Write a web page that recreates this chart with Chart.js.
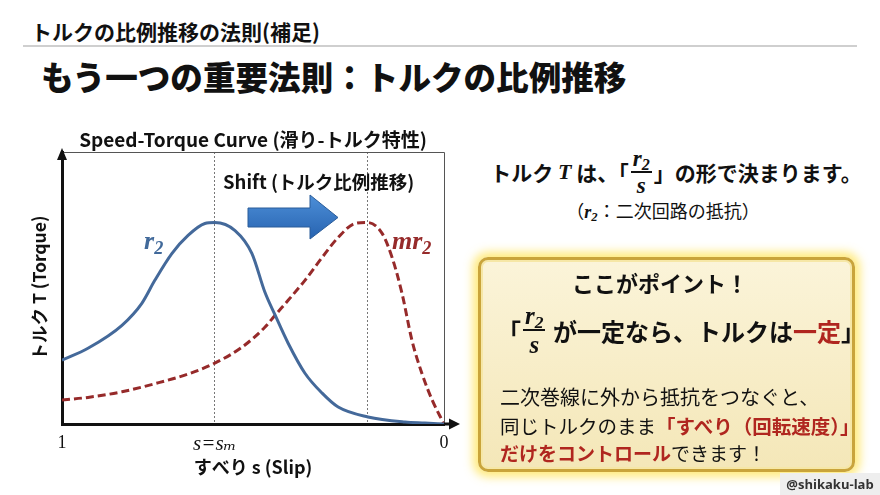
<!DOCTYPE html>
<html><head><meta charset="utf-8">
<script src="https://cdn.jsdelivr.net/npm/chart.js@4.4.1/dist/chart.umd.min.js"></script>
<style>
html,body{margin:0;padding:0;background:#fff;}
body{width:880px;height:495px;position:relative;overflow:hidden;font-family:'Noto Sans CJK JP','Noto Sans',sans-serif;color:#111;}
.abs{position:absolute;white-space:nowrap;}
.m{font-family:'Liberation Serif','DejaVu Serif',serif;font-style:italic;font-weight:700;}
#sub{left:31px;top:21px;font-size:21px;font-weight:700;line-height:1;}
#rule{left:23px;top:45px;width:834px;height:2px;background:#cfcfcf;}
#main{left:41px;top:60px;font-size:32.6px;font-weight:900;line-height:1;}
#chartBox{left:0;top:110px;width:470px;height:385px;}
#lblR2{left:144px;top:228px;font-size:26px;line-height:1;color:#41699a;}
#lblMR2{left:392px;top:228px;font-size:26px;line-height:1;color:#962a2a;}
.m sub{font-size:0.7em;vertical-align:-0.25em;line-height:0;}
#shift{left:223px;top:170px;font-size:18.5px;font-weight:700;line-height:1.2;color:#111;}
#arrow{left:246px;top:193px;}
.frac{display:inline-flex;flex-direction:column;align-items:center;margin:0 2px;}
.frac .n{border-bottom:2px solid #111;padding:0 2px 1px;line-height:1;}
.frac .d{line-height:1;padding-top:1px;}
#l1{left:488px;top:140px;width:376px;height:64px;display:flex;align-items:center;justify-content:center;font-size:21px;font-weight:700;}
#l1 .frac{font-size:23px;}
#l2{left:550px;top:200px;width:226px;text-align:center;font-size:18px;line-height:1.2;}
#box{left:478px;top:257px;width:377px;height:215px;box-sizing:border-box;border:3px solid #c9a43b;border-radius:10px;
 background:linear-gradient(#fbf4d9,#f4e7b8);box-shadow:0 0 10px 5px rgba(255,225,70,0.7), inset 0 0 0 2px #f6e7a6;}
#pt{left:560px;top:271px;width:200px;text-align:center;font-size:22px;font-weight:700;line-height:1;}
#l3{left:497px;top:300px;height:60px;display:flex;align-items:center;font-size:24px;font-weight:700;}
#l3 .frac{font-size:25px;}
.red{color:#b0261f;}
.b{font-weight:700;}
.body{left:500px;line-height:1;}
#b1{top:387px;font-size:20px;}#b2{top:416px;font-size:19.5px;}#b3{top:443px;font-size:19px;}
#wm{left:780px;top:473px;width:100px;height:22px;background:#eeeeee;font-size:13px;font-weight:700;line-height:22px;text-align:center;color:#333;font-family:'Open Sans','DejaVu Sans',sans-serif;}
</style></head>
<body>
<div class="abs" id="sub">トルクの比例推移の法則(補足)</div>
<div class="abs" id="rule"></div>
<div class="abs" id="main">もう一つの重要法則：トルクの比例推移</div>
<div class="abs" id="chartBox"><canvas id="c" width="470" height="385"></canvas></div>
<div class="abs" id="shift">Shift (トルク比例推移)</div>
<svg class="abs" id="arrow" width="96" height="48" viewBox="0 0 96 48">
 <defs><linearGradient id="g" x1="0" y1="0" x2="0" y2="1"><stop offset="0" stop-color="#4d8fd8"/><stop offset="1" stop-color="#2763b0"/></linearGradient></defs>
 <polygon points="2,15 64,15 64,2 92,24.5 64,46 64,34 2,34" fill="url(#g)" stroke="#2a5c99" stroke-width="1"/>
</svg>
<div class="abs m" id="lblR2">r<sub>2</sub></div>
<div class="abs m" id="lblMR2">mr<sub>2</sub></div>

<div class="abs" id="l1">トルク&nbsp;<span class="m" style="font-size:22px">T</span>&nbsp;は、「<span class="frac m"><span class="n">r<sub>2</sub></span><span class="d">s</span></span>」の形で決まります。</div>
<div class="abs" id="l2">（<span class="m">r<sub>2</sub></span>：二次回路の抵抗）</div>

<div class="abs" id="box"></div>
<div class="abs" id="pt">ここがポイント！</div>
<div class="abs" id="l3">「<span class="frac m"><span class="n">r<sub>2</sub></span><span class="d">s</span></span>&nbsp;が一定なら、トルクは<span class="red">一定</span>」</div>
<div class="abs body" id="b1">二次巻線に外から抵抗をつなぐと、</div>
<div class="abs body" id="b2">同じトルクのまま<span class="red b">「すべり（回転速度）」</span></div>
<div class="abs body" id="b3"><span class="red b">だけをコントロール</span>できます！</div>
<div class="abs" id="wm">@shikaku-lab</div>

<script>
// ---- data ----
const slipR2   = [1.000,0.932,0.843,0.791,0.757,0.712,0.670,0.626,0.600,0.547,0.503,0.469,0.442,0.408,0.364,0.319,0.277,0.199,0.102,0.050,0.000];
const torqueR2 = [0.317,0.376,0.490,0.599,0.713,0.847,0.936,0.995,1.000,0.960,0.847,0.655,0.540,0.401,0.252,0.153,0.084,0.035,0.010,0.005,0.000];
const slipMR2   = [1.000,0.932,0.843,0.757,0.670,0.600,0.529,0.469,0.442,0.408,0.364,0.319,0.277,0.233,0.200,0.162,0.136,0.110,0.084,0.058,0.031,0.000];
const torqueMR2 = [0.119,0.132,0.160,0.200,0.248,0.302,0.381,0.480,0.540,0.614,0.713,0.827,0.926,0.995,1.000,0.946,0.827,0.649,0.416,0.252,0.119,0.000];
const xTickValues = [1, 0.6, 0.2, 0];
const xTickLabels = ['1', 's=sₘ', '', '0'];
const dottedAt = [0.6, 0.2];
const seriesNames = ['r2', 'mr2'];
const chartTitle = 'Speed-Torque Curve (滑り-トルク特性)';
const xTitle = 'すべり s (Slip)';
const yTitle = 'トルク T (Torque)';

Chart.defaults.font.family = "'Noto Sans CJK JP','Noto Sans',sans-serif";
Chart.defaults.color = '#111';

const pts = (xs, ys) => xs.map((x, i) => ({x, y: ys[i]}));

const framePlugin = {
  id: 'frame',
  beforeDatasetsDraw(chart) {
    const {ctx, chartArea: {left, right, top, bottom}} = chart;
    ctx.save();
    ctx.strokeStyle = '#555';
    ctx.lineWidth = 1;
    ctx.beginPath();
    ctx.moveTo(left, Math.round(top) + 0.5);
    ctx.lineTo(Math.round(right) + 0.5, Math.round(top) + 0.5);
    ctx.lineTo(Math.round(right) + 0.5, bottom);
    ctx.stroke();
    ctx.restore();
  },
  afterDraw(chart) {
    const {ctx, chartArea: {left, right, top, bottom}} = chart;
    ctx.save();
    ctx.fillStyle = '#111';
    ctx.beginPath();
    ctx.moveTo(left, top - 4);
    ctx.lineTo(left - 5, top + 8);
    ctx.lineTo(left + 5, top + 8);
    ctx.closePath();
    ctx.fill();
    ctx.fillRect(right, bottom - 1.5, 8, 3);
    ctx.beginPath();
    ctx.moveTo(right + 16, bottom);
    ctx.lineTo(right + 5, bottom - 5.5);
    ctx.lineTo(right + 5, bottom + 5.5);
    ctx.closePath();
    ctx.fill();
    ctx.restore();
  }
};

new Chart(document.getElementById('c'), {
  type: 'line',
  data: {
    datasets: [
      {label: seriesNames[0], data: pts(slipR2, torqueR2), borderColor: '#44699a', borderWidth: 3,
       pointRadius: 0, cubicInterpolationMode: 'monotone', fill: false},
      {label: seriesNames[1], data: pts(slipMR2, torqueMR2), borderColor: '#962a2a', borderWidth: 3,
       borderDash: [8, 4], pointRadius: 0, cubicInterpolationMode: 'monotone', fill: false}
    ]
  },
  options: {
    responsive: false,
    animation: false,
    layout: {padding: {left: 0, right: 26, top: 0, bottom: 0}},
    plugins: {
      legend: {display: false},
      tooltip: {enabled: false},
      title: {display: true, text: chartTitle, fullSize: false, color: '#111',
              font: {size: 19, weight: 'bold'}, padding: {top: 18.6, bottom: 0.6}}
    },
    scales: {
      x: {
        type: 'linear', min: 0, max: 1, reverse: true,
        afterBuildTicks: s => { s.ticks = xTickValues.map(v => ({value: v})); },
        afterFit: s => { s.height = 71; },
        ticks: {autoSkip: false, maxRotation: 0, padding: 8, color: '#111',
                callback: (v, i) => xTickLabels[i],
                font: c => (c.tick && c.tick.value === 0.6)
                  ? {family: "'Liberation Serif','DejaVu Serif',serif", size: 21, style: 'italic'}
                  : {family: "'Liberation Serif','DejaVu Serif',serif", size: 18, style: 'normal'}},
        grid: {drawTicks: false, lineWidth: 1,
               color: c => (c.tick && dottedAt.includes(c.tick.value)) ? '#777' : 'rgba(0,0,0,0)'},
        border: {display: true, width: 3, color: '#111', dash: [2, 2]},
        title: {display: true, text: xTitle, font: {size: 18, weight: 'bold'}, color: '#111', padding: {top: 0, bottom: 17.2}}
      },
      y: {
        min: 0, max: 1.35,
        afterFit: s => { s.width = 62; },
        ticks: {display: false},
        grid: {display: false, drawTicks: false},
        border: {display: true, width: 3, color: '#111'},
        title: {display: true, text: yTitle, font: {size: 17.5, weight: 'bold'}, color: '#111', padding: {top: 29, bottom: 0}}
      }
    }
  },
  plugins: [framePlugin]
});
</script>
</body></html>
